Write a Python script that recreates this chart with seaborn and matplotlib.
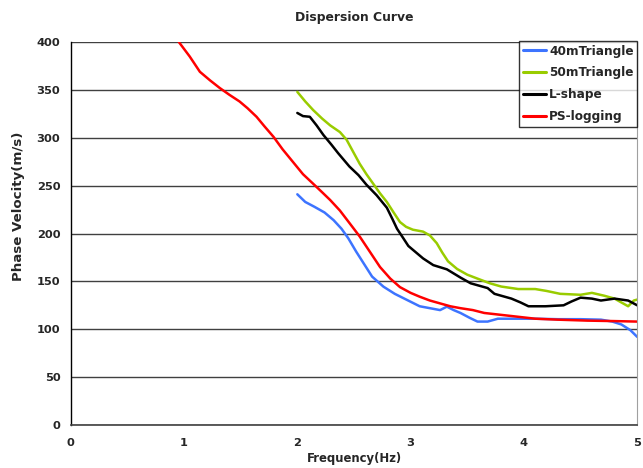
import matplotlib
matplotlib.use("Agg")
import matplotlib.pyplot as plt
import seaborn as sns
import pandas as pd

# ---- data ----
tri40_f = [2.0, 2.07, 2.15, 2.24, 2.32, 2.39, 2.45, 2.52, 2.59, 2.66,
           2.76, 2.86, 2.97, 3.08, 3.17, 3.26, 3.32, 3.38, 3.44, 3.52,
           3.59, 3.68, 3.77, 3.9, 4.1, 4.3, 4.5, 4.68, 4.78, 4.86, 4.94, 5.0]
tri40_v = [241, 233, 228, 222, 214, 205, 195, 181, 168, 155,
           144.5, 137, 130.5, 124, 122, 120, 123.6, 120, 117, 112,
           108, 108, 111, 111, 111, 110.5, 110.5, 110, 108, 105, 99, 92]

tri50_f = [2.0, 2.07, 2.14, 2.22, 2.29, 2.376, 2.435, 2.49, 2.55, 2.61,
           2.67, 2.73, 2.79, 2.85, 2.906, 2.96, 3.02, 3.11, 3.17, 3.23,
           3.28, 3.33, 3.41, 3.5, 3.61, 3.7, 3.8, 3.95, 4.10, 4.2,
           4.32, 4.5, 4.6, 4.71, 4.8, 4.86, 4.92, 4.97, 5.0]
tri50_v = [348, 338, 329, 320, 313, 306, 298, 286, 273, 262,
           252, 242, 233, 222, 212, 207, 204, 202, 198, 190,
           180, 171, 163, 157, 152, 148, 144.6, 142, 142, 140,
           137, 136, 138, 135, 132, 128, 124, 130, 131]

lshape_f = [2.0, 2.05, 2.11, 2.17, 2.23, 2.30, 2.36, 2.46, 2.54, 2.61,
            2.70, 2.79, 2.84, 2.88, 2.936, 2.98, 3.05, 3.11, 3.20, 3.32,
            3.44, 3.53, 3.62, 3.68, 3.74, 3.89, 3.97, 4.04, 4.19, 4.35,
            4.42, 4.50, 4.60, 4.68, 4.80, 4.92, 5.0]
lshape_v = [326, 322.7, 322, 313, 303, 293, 284, 270, 261, 251,
            240, 227, 215, 205, 195, 187, 180, 174, 167, 162.6,
            154, 148, 145, 143, 137, 132, 128, 124, 124, 125,
            129, 133, 132, 130, 132, 130, 125]

ps_f = [0.955, 1.05, 1.14, 1.23, 1.316, 1.40, 1.49, 1.56, 1.64, 1.71,
        1.79, 1.87, 1.96, 2.05, 2.14, 2.22, 2.29, 2.376, 2.46, 2.55,
        2.64, 2.73, 2.82, 2.906, 3.0, 3.08, 3.17, 3.26, 3.35, 3.44,
        3.55, 3.65, 3.8, 3.95, 4.10, 4.3, 4.56, 4.8, 5.0]
ps_v = [400, 385, 369, 360, 352, 345, 338, 331, 322, 312,
        301, 288, 275, 262, 252, 243, 235, 224, 211, 197,
        181, 165, 153, 144, 138, 134, 130, 127, 124, 122,
        120, 117, 115, 113, 111, 110, 109, 108.5, 108]

series_names = ["40mTriangle", "50mTriangle", "L-shape", "PS-logging"]
series_colors = ["#3D74FF", "#99CC00", "#000000", "#FF0000"]
x_ticks = [0, 1, 2, 3, 4, 5]
y_ticks = [0, 50, 100, 150, 200, 250, 300, 350, 400]

frames = []
for name, f, v in zip(series_names,
                      [tri40_f, tri50_f, lshape_f, ps_f],
                      [tri40_v, tri50_v, lshape_v, ps_v]):
    frames.append(pd.DataFrame({"freq": f, "vel": v, "series": name}))
df = pd.concat(frames, ignore_index=True)

sns.set_style("white")
plt.rcParams["font.family"] = ["DejaVu Sans"]
plt.rcParams["font.weight"] = "bold"

fig = plt.figure(figsize=(6.43, 4.68), dpi=100)
ax = fig.add_axes([0.110, 0.092, 0.881, 0.818])

sns.lineplot(data=df, x="freq", y="vel", hue="series", hue_order=series_names,
             palette=dict(zip(series_names, series_colors)), sort=False,
             estimator=None, linewidth=1.8, ax=ax)

ax.set_xlim(0, 5)
ax.set_ylim(0, 400)
ax.set_xticks(x_ticks)
ax.set_yticks(y_ticks)
ax.tick_params(axis="y", length=0, labelsize=8.2, pad=7.5)
ax.tick_params(axis="x", length=0, labelsize=8.2, pad=9.5)
for lab in ax.get_xticklabels() + ax.get_yticklabels():
    lab.set_fontweight("bold")
ax.yaxis.grid(True, color="#404040", linewidth=1.0)
ax.xaxis.grid(False)
ax.set_axisbelow(True)

ax.spines["left"].set_color("black")
ax.spines["left"].set_linewidth(1.0)
ax.spines["bottom"].set_color("#404040")
ax.spines["bottom"].set_linewidth(1.2)
ax.spines["right"].set_color("#A0A0A0")
ax.spines["top"].set_visible(False)

ax.set_xlabel("Frequency(Hz)", fontsize=8.4, fontweight="bold", labelpad=3)
ax.set_ylabel("Phase Velocity(m/s)", fontsize=9.6, fontweight="bold")
ax.yaxis.set_label_coords(-0.080, 0.572)
ax.set_title("Dispersion Curve", fontsize=8.9, fontweight="bold", pad=15)

handles, labels = ax.get_legend_handles_labels()
leg = ax.legend(handles, labels, loc="upper right", bbox_to_anchor=(1.0, 1.003),
                frameon=True, fancybox=False, edgecolor="black",
                prop={"size": 8.75, "weight": "bold"}, handlelength=1.9,
                handletextpad=0.25, labelspacing=0.72, borderpad=0.3,
                borderaxespad=0.0)
leg.get_frame().set_linewidth(1.0)
for line in leg.get_lines():
    line.set_linewidth(2.2)

fig.savefig("out.png", dpi=100)
